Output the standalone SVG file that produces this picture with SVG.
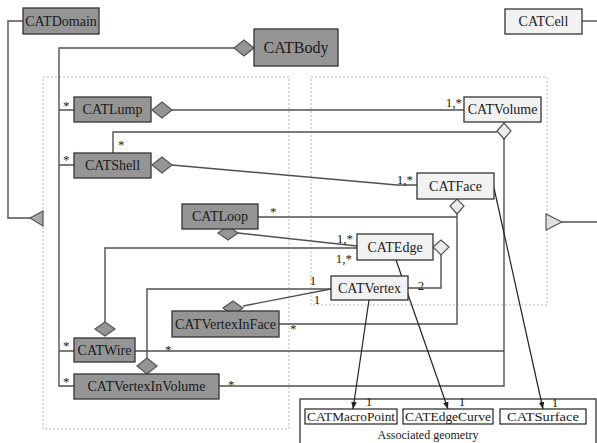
<svg xmlns="http://www.w3.org/2000/svg" width="597" height="443" viewBox="0 0 597 443">
<defs>
<marker id="arr" viewBox="0 0 10 10" refX="10" refY="5" markerWidth="7" markerHeight="7" orient="auto" markerUnits="userSpaceOnUse">
<path d="M0,1 L10,5 L0,9 Z" fill="#222"/>
</marker>
<style>
text{font-family:"Liberation Serif","Times New Roman",serif;fill:#1a1a1a}
.t{font-size:14px;text-anchor:middle}
.tb{font-size:16px;text-anchor:middle}
.ts{font-size:13px;text-anchor:middle}
.lab{font-size:13px}
.g rect{fill:#959595;stroke:#333;stroke-width:1.3}
.l rect{fill:#f2f2f2;stroke:#333;stroke-width:1.3}
.w rect{fill:#fff;stroke:#222;stroke-width:1.2}
.dg{fill:#959595;stroke:#555;stroke-width:1.2}
.dl{fill:#ececec;stroke:#555;stroke-width:1.2}
.c{fill:none;stroke:#505050;stroke-width:1.4}
.a{fill:none;stroke:#222;stroke-width:1.2}
.dot{fill:none;stroke:#bdbdbd;stroke-width:1;stroke-dasharray:2,2}
</style>
</defs>
<rect width="597" height="443" fill="#fff"/>

<g id="groups">
<rect class="dot" x="43" y="77" width="246" height="352"/>
<rect class="dot" x="311" y="77" width="236" height="228"/>
</g>

<g id="connectors">
<polyline class="c" points="23,21 8,21 8,218 30,218"/>
<polygon points="30,218 43,211 43,226" fill="#a8a8a8" stroke="#555" stroke-width="1.2"/>
<line class="c" x1="582" y1="21" x2="597" y2="21"/>
<line class="c" x1="562" y1="222" x2="597" y2="222"/>
<polygon points="546,214 546,230 562,222" fill="#e0e0e0" stroke="#555" stroke-width="1.2"/>

<path class="c" d="M234,48 H59 V386 H74 M59,110 H74 M59,165 H74 M59,351 H74"/>
<line class="c" x1="172" y1="110" x2="464" y2="110"/>
<polyline class="c" points="113,153 113,132 497,132"/>
<polyline class="c" points="172,165 397,185 417,185"/>
<path class="c" d="M457,214 V324 H279 M258,217 H457"/>
<path class="c" d="M504,139 V386 H219 M135,351 H504"/>
<path class="c" d="M441,255 V288 H408"/>
<line class="c" x1="238" y1="233" x2="357" y2="246"/>
<path class="c" d="M105,322 V248 H357"/>
<line class="c" x1="243" y1="306" x2="331" y2="289"/>
<path class="c" d="M147,358 V289 H331"/>

<line class="a" x1="369" y1="300" x2="353" y2="409" marker-end="url(#arr)"/>
<line class="a" x1="396" y1="260" x2="448" y2="409" marker-end="url(#arr)"/>
<line class="a" x1="494" y1="188" x2="543" y2="409" marker-end="url(#arr)"/>

<polygon class="dg" points="234,48 244,40 254,48 244,56"/>
<polygon class="dg" points="152,110 162,102 172,110 162,118"/>
<polygon class="dg" points="152,165 162,157 172,165 162,173"/>
<polygon class="dl" points="497,131 504,123 511,131 504,139"/>
<polygon class="dl" points="450,206 457,199 464,206 457,214"/>
<polygon class="dl" points="433,247 441,240 449,247 441,255"/>
<polygon class="dg" points="218,233 228,226 238,233 228,240"/>
<polygon class="dg" points="223,308 233,301 243,308 233,315"/>
<polygon class="dg" points="95,329 105,322 115,329 105,336"/>
<polygon class="dg" points="137,366 147,358 157,366 147,374"/>

<text class="lab" x="63" y="110">*</text>
<text class="lab" x="63" y="164">*</text>
<text class="lab" x="63" y="350">*</text>
<text class="lab" x="63" y="386">*</text>
<text class="lab" x="462" y="107" text-anchor="end">1,*</text>
<text class="lab" x="118" y="149">*</text>
<text class="lab" x="413" y="184" text-anchor="end">1,*</text>
<text class="lab" x="270" y="216">*</text>
<text class="lab" x="290" y="333">*</text>
<text class="lab" x="165" y="354">*</text>
<text class="lab" x="228" y="389">*</text>
<text class="lab" x="421" y="290" text-anchor="middle">2</text>
<text class="lab" x="353" y="243" text-anchor="end">1,*</text>
<text class="lab" x="352" y="263" text-anchor="end">1,*</text>
<text class="lab" x="313" y="285" text-anchor="middle">1</text>
<text class="lab" x="317" y="304" text-anchor="middle">1</text>
<text class="lab" x="369" y="406" text-anchor="middle">1</text>
<text class="lab" x="462" y="406" text-anchor="middle">1</text>
<text class="lab" x="555" y="407" text-anchor="middle">1</text>
</g>

<g id="CATDomain" class="g"><rect x="23" y="8" width="76" height="26"/><text class="t" x="61" y="26">CATDomain</text></g>
<g id="CATBody" class="g"><rect x="254" y="29" width="84" height="37"/><text class="tb" x="296" y="53">CATBody</text></g>
<g id="CATCell" class="l"><rect x="505" y="9" width="77" height="25"/><text class="t" x="543.5" y="26">CATCell</text></g>
<g id="CATLump" class="g"><rect x="74" y="97" width="77" height="25"/><text class="t" x="112.5" y="114">CATLump</text></g>
<g id="CATVolume" class="l"><rect x="464" y="97" width="77" height="25"/><text class="t" x="502.5" y="114">CATVolume</text></g>
<g id="CATShell" class="g"><rect x="74" y="153" width="77" height="25"/><text class="t" x="112.5" y="170">CATShell</text></g>
<g id="CATFace" class="l"><rect x="417" y="173" width="77" height="26"/><text class="t" x="455.5" y="191">CATFace</text></g>
<g id="CATLoop" class="g"><rect x="182" y="204" width="76" height="25"/><text class="t" x="220" y="221">CATLoop</text></g>
<g id="CATEdge" class="l"><rect x="357" y="234" width="76" height="26"/><text class="t" x="395" y="252">CATEdge</text></g>
<g id="CATVertex" class="l"><rect x="331" y="276" width="77" height="24"/><text class="t" x="369.5" y="293">CATVertex</text></g>
<g id="CATVertexInFace" class="g"><rect x="172" y="311" width="107" height="26"/><text class="t" x="225.5" y="329">CATVertexInFace</text></g>
<g id="CATWire" class="g"><rect x="74" y="338" width="61" height="24"/><text class="t" x="104.5" y="355">CATWire</text></g>
<g id="CATVertexInVolume" class="g"><rect x="74" y="374" width="145" height="25"/><text class="t" x="146.5" y="391">CATVertexInVolume</text></g>

<g id="AssociatedGeometry">
<rect x="300" y="399" width="296" height="60" fill="none" stroke="#222" stroke-width="1.2"/>
<text x="428" y="439" font-size="12" text-anchor="middle">Associated geometry</text>
</g>
<g id="CATMacroPoint" class="w"><rect x="305" y="409" width="92" height="15"/><text class="ts" x="351" y="421" textLength="88" lengthAdjust="spacingAndGlyphs">CATMacroPoint</text></g>
<g id="CATEdgeCurve" class="w"><rect x="403" y="409" width="90" height="15"/><text class="ts" x="448" y="421" textLength="86" lengthAdjust="spacingAndGlyphs">CATEdgeCurve</text></g>
<g id="CATSurface" class="w"><rect x="500" y="409" width="86" height="15"/><text class="ts" x="543" y="421" textLength="72" lengthAdjust="spacingAndGlyphs">CATSurface</text></g>
</svg>
